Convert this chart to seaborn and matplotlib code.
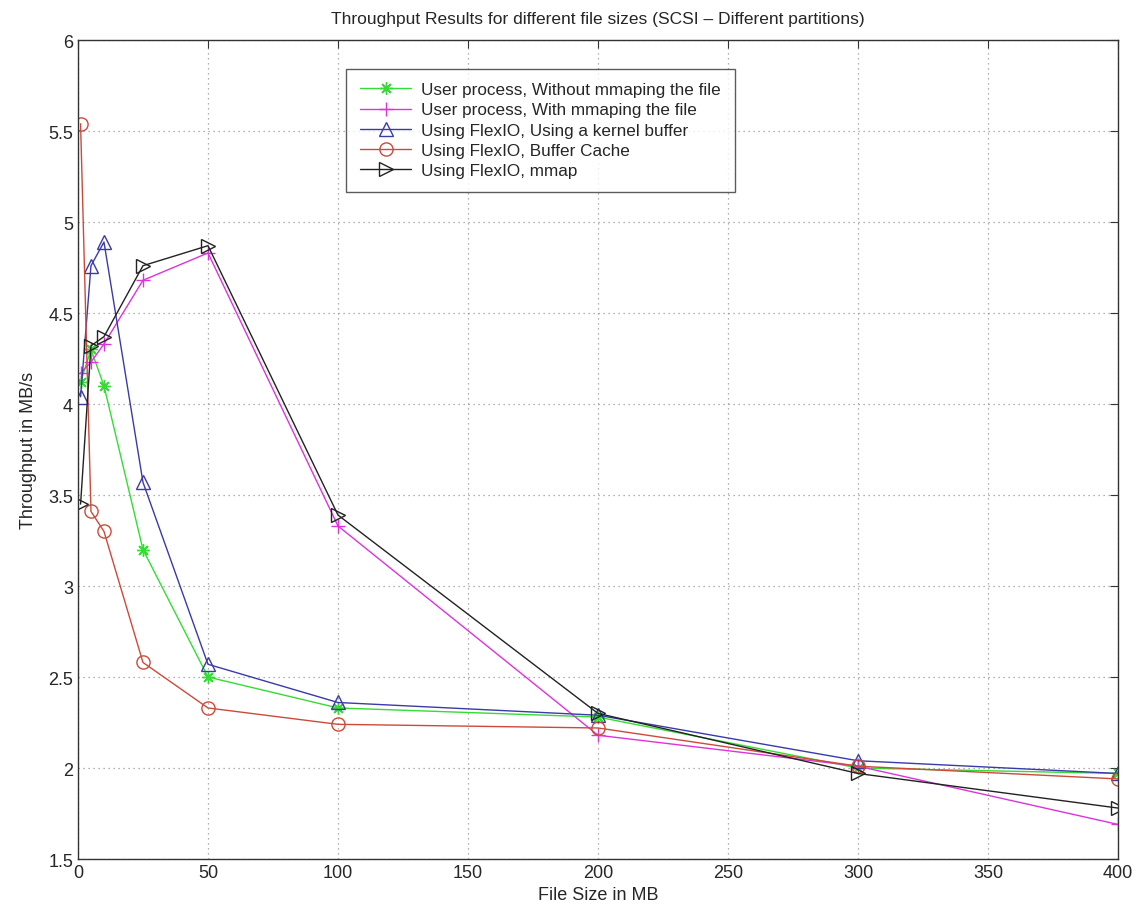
import numpy as np
import pandas as pd
import matplotlib
matplotlib.use("Agg")
import matplotlib.pyplot as plt
import seaborn as sns

# File sizes in MB
file_sizes = [1, 5, 10, 25, 50, 100, 200, 300, 400]

# Throughput in MB/s for each configuration
user_no_mmap = [4.12, 4.30, 4.10, 3.20, 2.50, 2.33, 2.28, 2.00, 1.97]
user_mmap = [4.17, 4.23, 4.33, 4.68, 4.83, 3.33, 2.18, 2.01, 1.69]
flexio_kernel = [4.04, 4.76, 4.89, 3.57, 2.57, 2.36, 2.29, 2.04, 1.97]
flexio_cache = [5.54, 3.41, 3.30, 2.58, 2.33, 2.24, 2.22, 2.01, 1.94]
flexio_mmap = [3.45, 4.32, 4.37, 4.76, 4.87, 3.39, 2.30, 1.97, 1.78]

labels = [
    "User process, Without mmaping the file",
    "User process, With mmaping the file",
    "Using FlexIO, Using a kernel buffer",
    "Using FlexIO, Buffer Cache",
    "Using FlexIO, mmap",
]
series = [user_no_mmap, user_mmap, flexio_kernel, flexio_cache, flexio_mmap]

colors = ["#33dd33", "#dd33dd", "#3a3aa8", "#cc4a3a", "#222222"]
markers = [(8, 2, 0), "+", "^", "o", ">"]
sizes = [9, 10, 10, 9.5, 10.5]

sns.set_style("white")
plt.rcParams["font.family"] = ["Liberation Sans", "DejaVu Sans"]

fig = plt.figure(figsize=(11.4, 9.2), dpi=100)
ax = fig.add_axes([0.0684, 0.0652, 0.9123, 0.8902])

for vals, lab, col, mk, ms in zip(series, labels, colors, markers, sizes):
    df = pd.DataFrame({"size": file_sizes, "tp": vals})
    sns.lineplot(
        data=df, x="size", y="tp", ax=ax, color=col, marker=mk,
        markersize=ms, markerfacecolor="none", markeredgecolor=col,
        markeredgewidth=1.0, linewidth=1.0, label=lab, sort=False,
    )

ax.set_xlim(0, 400)
ax.set_ylim(1.5, 6)
ax.set_xticks(np.arange(0, 401, 50))
ax.set_yticks(np.arange(1.5, 6.01, 0.5))
ax.set_yticklabels([f"{v:g}" for v in np.arange(1.5, 6.01, 0.5)])
ax.tick_params(direction="in", length=6, top=True, right=True, labelsize=13,
               color="#333333")
ax.grid(True, linestyle=(0, (1, 3)), color="#999999", linewidth=0.9)
for sp in ax.spines.values():
    sp.set_color("#333333")
    sp.set_linewidth(1.0)

ax.set_xlabel("File Size in MB", fontsize=13, labelpad=4)
ax.set_ylabel("Throughput in MB/s", fontsize=13, labelpad=8)
ax.set_title("Throughput Results for different file sizes (SCSI \u2013 Different partitions)",
             fontsize=12.5, pad=12)

leg = ax.legend(loc="upper left", bbox_to_anchor=(0.258, 0.965), borderaxespad=0,
                fontsize=12.3, frameon=True, fancybox=False, edgecolor="#333333",
                handlelength=3.0, labelspacing=0.3, borderpad=0.8,
                handletextpad=0.6)
leg.get_frame().set_linewidth(1.0)

fig.savefig("out.png", dpi=100)
